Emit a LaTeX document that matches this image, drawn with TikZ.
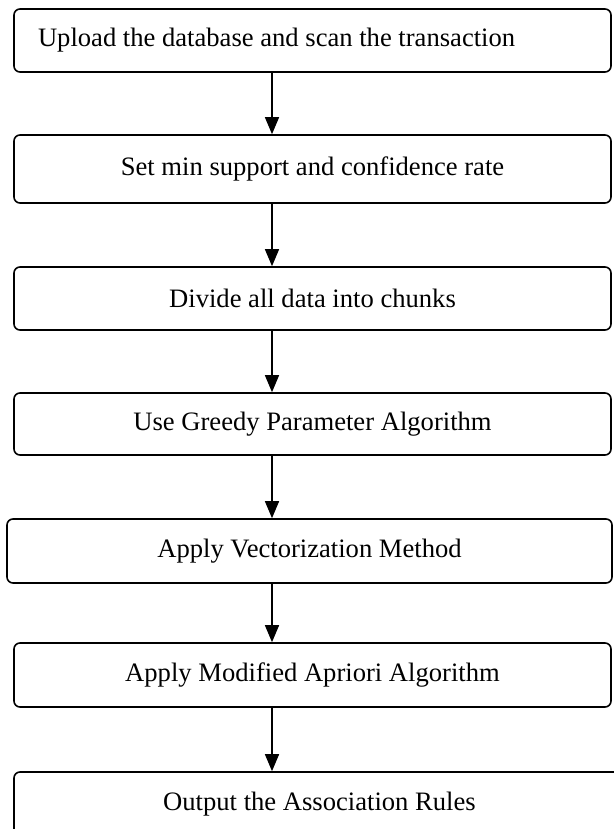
\documentclass[tikz,border=0pt]{standalone}
\usepackage{fontspec}
\setmainfont{Liberation Serif}
\usetikzlibrary{arrows.meta}

\begin{document}
\begin{tikzpicture}[
        x=1pt, y=-1pt,
        stage/.style={draw, rounded corners=6pt, line width=1.6pt, inner sep=0pt,
            minimum width=597pt, minimum height=64pt,
            font=\fontsize{26.6}{30}\selectfont},
        flow/.style={line width=1.4pt, -{Triangle[length=17pt,width=14pt]}}
    ]

    % Frame
    \useasboundingbox (0,0) rectangle (613,829);
    \coordinate (ax) at (272,0);

    % First step, text set to the left
    \node[stage, minimum height=63pt, text width=549pt, align=flush left] (s1) at (312.5,40.5)
        {Upload the database and scan the transaction};

    % Remaining steps
    \foreach \i/\cx/\cy/\w/\h/\txt in {
            2/312.5/169/597/68/Set min support and confidence rate,
            3/312.5/298.5/597/63/Divide all data into chunks,
            4/312.5/424/597/62/Use Greedy Parameter Algorithm,
            5/309.5/551/605/64/Apply Vectorization Method,
            6/312.5/675/597/64/Apply Modified Apriori Algorithm,
            7/319.5/804/611/64/Output the Association Rules}
        \node[stage, minimum width=\w pt, minimum height=\h pt] (s\i) at (\cx,\cy) {\txt};

    % Arrows
    \foreach \i/\j in {1/2,2/3,3/4,4/5,5/6,6/7}
        \draw[flow] (s\i.south -| ax) -- (s\j.north -| ax);

\end{tikzpicture}
\end{document}
